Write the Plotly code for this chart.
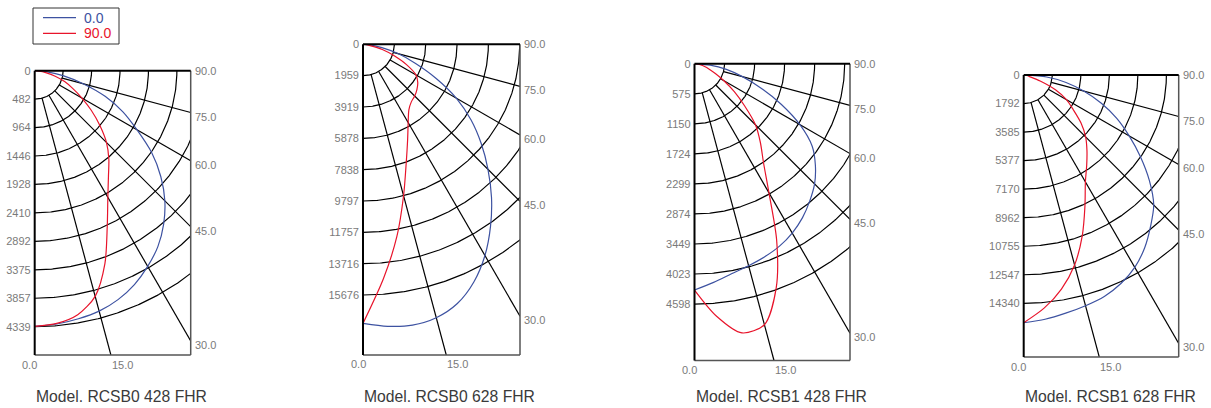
import math
import numpy as np
import plotly.graph_objects as go

# ---------------- data ----------------
ANGLES = [0, 5, 10, 15, 20, 25, 30, 35, 40, 45, 50, 55, 60, 65, 70, 75, 80, 85, 90]
GRID_ANGLES = [15, 30, 45, 60, 75]
RIGHT_ANGLES = [90, 75, 60, 45, 30]
RIGHT_LABELS = ["90.0", "75.0", "60.0", "45.0", "30.0"]
BOTTOM_ANGLES = [0, 15]
BOTTOM_LABELS = ["0.0", "15.0"]
SERIES_NAMES = ["0.0", "90.0"]

MODELS = ["Model. RCSB0 428 FHR", "Model. RCSB0 628 FHR",
          "Model. RCSB1 428 FHR", "Model. RCSB1 628 FHR"]

TICKS_RCSB0_428 = ["0", "482", "964", "1446", "1928", "2410", "2892", "3375", "3857", "4339"]
TICKS_RCSB0_628 = ["0", "1959", "3919", "5878", "7838", "9797", "11757", "13716", "15676"]
TICKS_RCSB1_428 = ["0", "575", "1150", "1724", "2299", "2874", "3449", "4023", "4598"]
TICKS_RCSB1_628 = ["0", "1792", "3585", "5377", "7170", "8962", "10755", "12547", "14340"]

C0_RCSB0_428 = [4335, 4310, 4270, 4220, 4130, 4000, 3830, 3640, 3400, 3120, 2790, 2420,
                2000, 1650, 1270, 850, 500, 215, 0]
C90_RCSB0_428 = [4335, 4300, 4200, 3960, 3480, 2910, 2480, 2180, 1955, 1720, 1440, 1170,
                 920, 710, 540, 360, 190, 80, 0]

C0_RCSB0_628 = [17450, 17700, 17830, 17700, 17250, 16400, 15250, 13900, 12500, 11050, 9650,
                8250, 6750, 5050, 3500, 2300, 1200, 450, 0]
C90_RCSB0_628 = [17450, 14700, 12200, 9800, 7900, 6600, 5650, 5000, 4700, 4570, 4400, 4180,
                 3820, 3000, 2050, 1250, 450, 150, 0]

C0_RCSB1_428 = [4330, 4200, 4080, 4000, 3930, 3850, 3740, 3600, 3430, 3250, 3020, 2750,
                2330, 1830, 1350, 950, 620, 300, 0]
C90_RCSB1_428 = [4330, 4850, 5230, 5170, 4570, 3720, 2850, 2300, 1960, 1650, 1250, 930,
                 650, 440, 300, 200, 110, 50, 0]

C0_RCSB1_628 = [15560, 15400, 15190, 15000, 14800, 14450, 13950, 13250, 12400, 11550, 10300,
                8950, 7650, 6450, 5190, 3900, 2700, 1450, 0]
C90_RCSB1_628 = [15560, 14700, 13650, 12350, 10750, 9100, 7750, 6900, 6180, 5500, 4700,
                 3800, 3100, 2200, 1100, 380, 200, 100, 0]

TICKS = [TICKS_RCSB0_428, TICKS_RCSB0_628, TICKS_RCSB1_428, TICKS_RCSB1_628]
C0 = [C0_RCSB0_428, C0_RCSB0_628, C0_RCSB1_428, C0_RCSB1_628]
C90 = [C90_RCSB0_428, C90_RCSB0_628, C90_RCSB1_428, C90_RCSB1_628]

# ---------------- layout / style ----------------
FIG_W, FIG_H = 1211, 408
BOXES = [(34.7, 70.7, 190.7, 355.0), (363.0, 44.3, 520.0, 355.0),
         (694.5, 63.8, 850.0, 360.5), (1023.7, 75.0, 1178.7, 357.0)]
PX_PER_TICK = [28.44, 31.34, 30.03, 28.54]
LEGEND_BOX = (33, 8, 119, 44)          # pixel box of the legend
LEGEND_ROWS = [17.7, 33.3]             # pixel y of the legend rows
FONT = "Liberation Sans, Arial, Helvetica, sans-serif"
BLUE = "#3d52a1"
RED = "#e8142b"
GRAY_TXT = "#7a7a7a"


def px(xp):
    return xp / FIG_W


def py(yp):
    return 1 - yp / FIG_H


fig = go.Figure()
annotations = []
shapes = []
layout_axes = {}

for i in range(4):
    left, top, right, bottom = BOXES[i]
    ticks = TICKS[i]
    tickvals = [float(t) for t in ticks]
    dpp = tickvals[-1] / ((len(ticks) - 1) * PX_PER_TICK[i])  # data units per pixel
    xmax = (right - left) * dpp
    ymax = (bottom - top) * dpp
    sx = "" if i == 0 else str(i + 1)
    xa, ya = "x" + sx, "y" + sx

    layout_axes["xaxis" + sx] = dict(domain=[px(left), px(right)], range=[0, xmax],
                                     showgrid=False, zeroline=False, showline=False,
                                     showticklabels=False, ticks="", anchor=ya, automargin=False)
    layout_axes["yaxis" + sx] = dict(domain=[py(bottom), py(top)], range=[ymax, 0],
                                     showgrid=False, zeroline=False, showline=False,
                                     tickmode="array", tickvals=tickvals, ticktext=ticks,
                                     ticks="", ticklabelstandoff=3,
                                     tickfont=dict(family=FONT, size=11, color=GRAY_TXT),
                                     anchor=xa, automargin=False)

    # arcs
    phi = np.radians(np.linspace(0, 90, 240))
    for r in tickvals[1:]:
        fig.add_trace(go.Scatter(x=r * np.sin(phi), y=r * np.cos(phi), mode="lines",
                                 line=dict(color="#000000", width=1.2), hoverinfo="skip",
                                 showlegend=False, xaxis=xa, yaxis=ya))
    # radial lines
    r0 = tickvals[1]
    for a in GRID_ANGLES:
        ar = math.radians(a)
        t = min(xmax / math.sin(ar), ymax / math.cos(ar))
        fig.add_trace(go.Scatter(x=[r0 * math.sin(ar), t * math.sin(ar)],
                                 y=[r0 * math.cos(ar), t * math.cos(ar)], mode="lines",
                                 line=dict(color="#000000", width=1.2), hoverinfo="skip",
                                 showlegend=False, xaxis=xa, yaxis=ya))
    # curves
    th = np.radians(ANGLES)
    for vals, col, nm in [(C0[i], BLUE, SERIES_NAMES[0]), (C90[i], RED, SERIES_NAMES[1])]:
        v = np.array(vals, dtype=float)
        fig.add_trace(go.Scatter(x=v * np.sin(th), y=v * np.cos(th), mode="lines",
                                 line=dict(color=col, width=1.2, shape="spline", smoothing=0.8),
                                 name=nm, legendgroup=nm, showlegend=False,
                                 xaxis=xa, yaxis=ya))

    # box edges
    shapes.append(dict(type="line", xref="paper", yref="paper", x0=px(right), x1=px(right),
                       y0=py(bottom), y1=py(top), line=dict(color="#555555", width=1.5)))
    shapes.append(dict(type="line", xref="paper", yref="paper", x0=px(left), x1=px(right),
                       y0=py(bottom), y1=py(bottom), line=dict(color="#555555", width=1.5)))
    shapes.append(dict(type="line", xref="paper", yref="paper", x0=px(left), x1=px(left),
                       y0=py(bottom), y1=py(top), line=dict(color="#000000", width=2)))
    shapes.append(dict(type="line", xref="paper", yref="paper", x0=px(left), x1=px(right),
                       y0=py(top), y1=py(top), line=dict(color="#000000", width=2)))

    # right angle labels
    for a, lab in zip(RIGHT_ANGLES, RIGHT_LABELS):
        yv = 0.0 if a == 90 else xmax / math.tan(math.radians(a))
        annotations.append(dict(x=xmax, y=yv, xref=xa, yref=ya, text=lab, showarrow=False,
                                xanchor="left", yanchor="middle", xshift=2,
                                yshift=0 if a == 90 else -4,
                                font=dict(family=FONT, size=11, color=GRAY_TXT)))
    # bottom angle labels
    for a, lab in zip(BOTTOM_ANGLES, BOTTOM_LABELS):
        xv = ymax * math.tan(math.radians(a))
        annotations.append(dict(x=xv, y=ymax, xref=xa, yref=ya, text=lab, showarrow=False,
                                xanchor="center", yanchor="middle",
                                xshift=-5 if a == 0 else 11.5, yshift=-9.5,
                                font=dict(family=FONT, size=11, color=GRAY_TXT)))
    # model title
    annotations.append(dict(x=px(left), y=py(396), xref="paper", yref="paper",
                            text=MODELS[i], showarrow=False, xanchor="left", yanchor="middle",
                            xshift=-1, font=dict(family=FONT, size=15.7, color="#3a3a3a")))

# legend (drawn as a small keyed box)
lx0, ly0, lx1, ly1 = LEGEND_BOX
shapes.append(dict(type="rect", xref="paper", yref="paper", x0=px(lx0), x1=px(lx1),
                   y0=py(ly1), y1=py(ly0), line=dict(color="#333333", width=1),
                   fillcolor="white"))
for nm, col, yrow in zip(SERIES_NAMES, [BLUE, RED], LEGEND_ROWS):
    shapes.append(dict(type="line", xref="paper", yref="paper", x0=px(lx0 + 10), x1=px(lx0 + 43),
                       y0=py(yrow), y1=py(yrow), line=dict(color=col, width=1.2)))
    annotations.append(dict(x=px(lx0 + 49), y=py(yrow), xref="paper", yref="paper", text=nm,
                            showarrow=False, xanchor="left", yanchor="middle",
                            font=dict(family=FONT, size=14, color=col)))

fig.update_layout(
    width=FIG_W, height=FIG_H, margin=dict(l=0, r=0, t=0, b=0),
    template="none", plot_bgcolor="white", paper_bgcolor="white",
    annotations=annotations, shapes=shapes, showlegend=False,
    **layout_axes,
)

fig.write_html("out.html", config={"displayModeBar": False},
               post_script="document.body.style.margin='0px';")
